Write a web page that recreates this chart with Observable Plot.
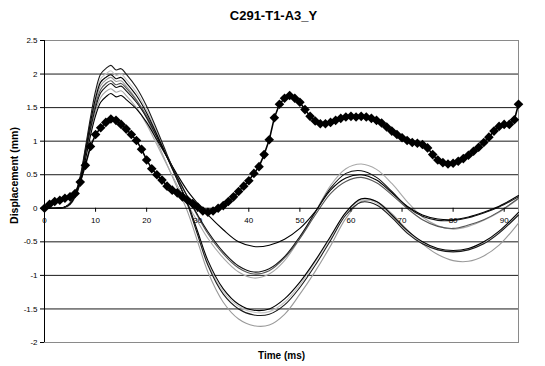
<!DOCTYPE html>
<html><head><meta charset="utf-8">
<script src="https://cdn.jsdelivr.net/npm/d3@7"></script>
<script src="https://cdn.jsdelivr.net/npm/@observablehq/plot@0.6"></script>
<style>body{margin:0;background:#fff}</style>
</head><body><div id="chart"></div>
<script>
const title = "C291-T1-A3_Y";
const xLabel = "Time (ms)";
const yLabel = "Displacement (mm)";
const xTicks = [0,10,20,30,40,50,60,70,80,90];
const xTickLabels = ["0","10","20","30","40","50","60","70","80","90"];
const yTicks = [-2,-1.5,-1,-0.5,0,0.5,1,1.5,2,2.5];
const yTickLabels = ["-2","-1.5","-1","-0.5","0","0.5","1","1.5","2","2.5"];
const yGrid = [-1.5,-1,-0.5,0.5,1,1.5,2];

// diamond-marked series
const diamondTime = [0,1,2,3,4,5,6,7,8,9,10,11,12,13,14,15,16,17,18,19,20,21,22,23,24,25,26,27,28,29,30,31,32,33,34,35,36,37,38,39,40,41,42,43,44,45,46,47,48,49,50,51,52,53,54,55,56,57,58,59,60,61,62,63,64,65,66,67,68,69,70,71,72,73,74,75,76,77,78,79,80,81,82,83,84,85,86,87,88,89,90,91,92,92.8];
const diamondValues = [0,0.06,0.1,0.12,0.15,0.17,0.22,0.39,0.64,0.92,1.1,1.2,1.28,1.33,1.31,1.25,1.18,1.1,1.01,0.88,0.72,0.59,0.5,0.42,0.33,0.27,0.23,0.17,0.12,0.07,0.02,-0.04,-0.06,-0.04,0,0.04,0.1,0.17,0.25,0.33,0.41,0.52,0.62,0.8,1.02,1.35,1.55,1.64,1.68,1.64,1.58,1.47,1.37,1.3,1.26,1.26,1.28,1.31,1.34,1.36,1.37,1.36,1.37,1.36,1.34,1.31,1.27,1.21,1.15,1.1,1.05,1.01,0.98,0.97,0.95,0.9,0.8,0.72,0.68,0.66,0.67,0.7,0.74,0.79,0.85,0.91,0.98,1.06,1.15,1.22,1.25,1.25,1.32,1.55];

// thin line series
const lineTime = [0,2,4,5,6,7,8,9,10,11,12,13,14,15,16,18,20,22,24,26,28,30,32,35,38,41,44,47,50,53,56,59,62,65,68,71,74,77,80,83,86,89,92.8];
const s1 = [0,0,0.02,0.06,0.17,0.38,0.72,1.08,1.38,1.58,1.66,1.71,1.66,1.68,1.62,1.48,1.28,1.02,0.76,0.5,0.26,0.07,-0.1,-0.32,-0.5,-0.57,-0.55,-0.46,-0.3,-0.05,0.27,0.45,0.5,0.42,0.23,0.03,-0.1,-0.16,-0.17,-0.13,-0.06,0.03,0.19];
const s2 = [0,0,0.02,0.07,0.19,0.42,0.8,1.18,1.5,1.72,1.81,1.86,1.8,1.82,1.75,1.58,1.35,1.06,0.76,0.46,0.17,-0.1,-0.35,-0.65,-0.86,-0.95,-0.9,-0.72,-0.42,-0.06,0.3,0.52,0.56,0.46,0.25,0.02,-0.12,-0.18,-0.18,-0.14,-0.07,0.02,0.17];
const s3 = [0,0,0.01,0.05,0.16,0.38,0.75,1.12,1.44,1.65,1.74,1.78,1.73,1.75,1.68,1.5,1.25,0.95,0.64,0.34,0.06,-0.2,-0.45,-0.74,-0.95,-1.04,-0.98,-0.78,-0.45,-0.06,0.34,0.59,0.66,0.58,0.37,0.1,-0.13,-0.26,-0.31,-0.27,-0.18,-0.06,0.14];
const s4 = [0,0,0.02,0.07,0.2,0.44,0.83,1.22,1.55,1.77,1.86,1.9,1.84,1.86,1.79,1.61,1.38,1.08,0.78,0.47,0.17,-0.12,-0.38,-0.68,-0.89,-0.98,-0.93,-0.74,-0.45,-0.1,0.22,0.4,0.46,0.38,0.2,0,-0.17,-0.27,-0.3,-0.25,-0.17,-0.05,0.15];
const s5 = [0,0,0.02,0.07,0.2,0.45,0.86,1.28,1.64,1.88,1.95,1.99,1.93,1.95,1.87,1.68,1.42,1.1,0.76,0.42,0.08,-0.35,-0.78,-1.2,-1.43,-1.52,-1.5,-1.35,-1.1,-0.78,-0.42,-0.06,0.14,0.1,-0.1,-0.33,-0.5,-0.6,-0.63,-0.6,-0.5,-0.34,-0.06];
const s6 = [0,0,0.02,0.08,0.22,0.48,0.9,1.35,1.75,2.0,2.08,2.13,2.06,2.08,2.0,1.8,1.52,1.17,0.8,0.43,0.06,-0.4,-0.85,-1.28,-1.5,-1.59,-1.58,-1.44,-1.18,-0.85,-0.48,-0.1,0.09,0.05,-0.14,-0.37,-0.53,-0.62,-0.65,-0.62,-0.53,-0.37,-0.1];
const s7 = [0,0,0.02,0.07,0.21,0.46,0.88,1.31,1.69,1.93,2.0,2.05,1.98,2.0,1.92,1.73,1.46,1.13,0.78,0.42,0.06,-0.38,-0.82,-1.24,-1.46,-1.55,-1.54,-1.4,-1.14,-0.8,-0.44,-0.07,0.12,0.08,-0.12,-0.35,-0.52,-0.61,-0.64,-0.61,-0.52,-0.36,-0.08];
const s8 = [0,0,0.01,0.06,0.19,0.43,0.83,1.25,1.6,1.83,1.91,1.95,1.89,1.9,1.82,1.62,1.34,1.0,0.65,0.3,-0.05,-0.5,-0.95,-1.4,-1.65,-1.75,-1.74,-1.58,-1.28,-0.94,-0.56,-0.15,0.1,0.1,-0.08,-0.32,-0.53,-0.69,-0.78,-0.79,-0.71,-0.55,-0.22];
const seriesValues = [s8, s7, s3, s4, s1, s2, s5, s6];
const seriesColors = ["#9a9a9a", "#c4c4c4", "#a8a8a8", "#555555", "#000000", "#111111", "#000000", "#1a1a1a"];

const diamondRows = diamondTime.map((t, i) => ({t, v: diamondValues[i]}));

const diamondSymbol = {
  draw(context, size) {
    const r = Math.sqrt(size / Math.PI);
    context.moveTo(0, -r); context.lineTo(r, 0); context.lineTo(0, r); context.lineTo(-r, 0); context.closePath();
  }
};

const lineMarks = seriesValues.map((vals, k) =>
  Plot.line(lineTime.map((t, i) => ({t, v: vals[i]})), {x: "t", y: "v", stroke: seriesColors[k], strokeWidth: 1.1, curve: "catmull-rom"})
);

const chart = Plot.plot({
  width: 545,
  height: 366,
  marginLeft: 44,
  marginRight: 27,
  marginTop: 40,
  marginBottom: 24,
  style: {fontFamily: "'Liberation Sans', Arial, sans-serif", background: "#fff", color: "#000"},
  x: {domain: [0, 92.8], axis: null},
  y: {domain: [-2, 2.5], axis: null},
  marks: [
    Plot.ruleY(yGrid, {y: d => d, stroke: "#1a1a1a", strokeWidth: 1}),
    Plot.frame({stroke: "#8a8a8a"}),
    ...lineMarks,
    Plot.line(diamondRows, {x: "t", y: "v", stroke: "#000", strokeWidth: 1.6}),
    Plot.dot(diamondRows, {x: "t", y: "v", symbol: diamondSymbol, r: 4.8, fill: "#000", stroke: "none"}),
    // x axis at zero
    Plot.ruleY([0], {y: d => d, stroke: "#000", strokeWidth: 1}),
    Plot.ruleX(xTicks, {x: d => d, y1: 0, y2: 0, insetTop: 0, insetBottom: -4, stroke: "#000"}),
    Plot.text(xTicks, {x: d => d, y: 0, dy: 12, text: (d, i) => xTickLabels[i], fontSize: 8, fill: "#000"}),
    // y axis
    Plot.ruleX([0], {x: d => d, stroke: "#000", strokeWidth: 1}),
    Plot.ruleY(yTicks, {y: d => d, x1: 0, x2: 0, insetLeft: -4, insetRight: 0, stroke: "#000"}),
    Plot.text(yTicks, {y: d => d, frameAnchor: "left", dx: -7, textAnchor: "end", lineAnchor: "middle", text: (d, i) => yTickLabels[i], fontSize: 8, fill: "#000"}),
    // titles
    Plot.text([title], {frameAnchor: "top", dy: -25, dx: -8, textAnchor: "middle", lineAnchor: "middle", fontSize: 13, fontWeight: "bold", fill: "#000"}),
    Plot.text([xLabel], {frameAnchor: "bottom", dy: 13, textAnchor: "middle", lineAnchor: "middle", fontSize: 10, fontWeight: "bold", fill: "#000"}),
    Plot.text([yLabel], {ariaLabel: "y-title", frameAnchor: "left", dx: -30, dy: -16, rotate: -90, textAnchor: "middle", lineAnchor: "middle", fontSize: 10.5, fontWeight: "bold", fill: "#000"})
  ]
});
const yt = chart.querySelector('g[aria-label="y-title"] text');
if (yt) { yt.setAttribute("textLength", 122); yt.setAttribute("lengthAdjust", "spacingAndGlyphs"); }
document.getElementById("chart").appendChild(chart);
</script>
</body></html>
